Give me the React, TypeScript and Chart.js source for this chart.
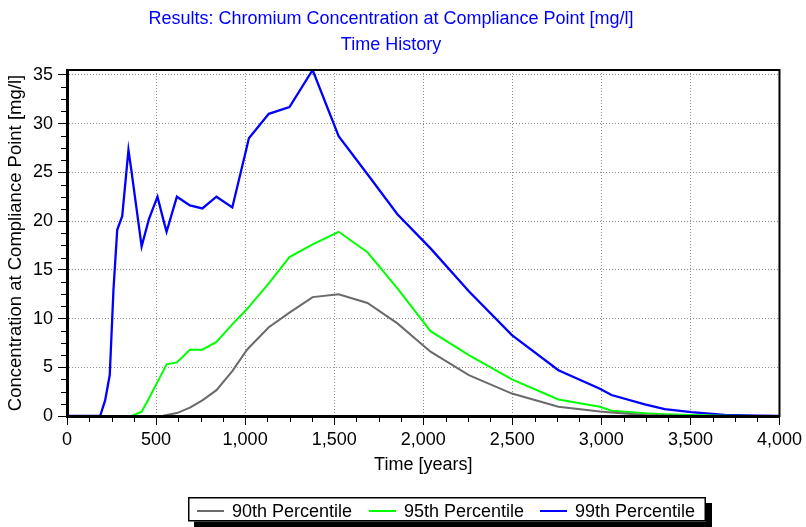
import React, { useEffect, useRef } from 'react';
import { Chart, registerables } from 'chart.js';

Chart.register(...registerables);

const TITLE_LINES = ['Results: Chromium Concentration at Compliance Point [mg/l]', 'Time History'];
const X_TITLE = 'Time [years]';
const Y_TITLE = 'Concentration at Compliance Point [mg/l]';
const SERIES_LABELS = ['90th Percentile', '95th Percentile', '99th Percentile'];
const SERIES_COLORS = ['#6a6a6a', '#00ff00', '#0000ff'];

// time steps [years]
const TIMES = [0, 186, 214, 240, 261, 282, 310, 345, 363, 419, 460, 508, 540, 559, 617, 690, 760, 839, 928, 1007, 1021, 1133, 1249, 1379, 1525, 1687, 1855, 2041, 2256, 2498, 2759, 2992, 3057, 3244, 3356, 3505, 3691, 3877, 4000];
// concentrations [mg/l]
const P90 = [0, 0, 0, 0, 0, 0, 0, 0, 0, 0, 0, 0, 0.02, 0.1, 0.3, 0.85, 1.6, 2.65, 4.6, 6.7, 7.0, 9.1, 10.6, 12.2, 12.5, 11.6, 9.5, 6.6, 4.2, 2.3, 0.95, 0.45, 0.35, 0.1, 0.05, 0, 0, 0, 0];
const P95 = [0, 0, 0, 0, 0, 0, 0, 0, 0, 0.45, 1.8, 3.5, 4.6, 5.3, 5.5, 6.8, 6.8, 7.6, 9.4, 10.9, 11.2, 13.6, 16.3, 17.6, 18.9, 16.8, 13.1, 8.7, 6.25, 3.75, 1.7, 0.95, 0.55, 0.27, 0.18, 0.1, 0.02, 0, 0];
const P99 = [0, 0, 1.6, 4.2, 13.0, 19.1, 20.5, 27.3, 25.0, 17.4, 20.2, 22.5, 20.2, 18.9, 22.5, 21.6, 21.3, 22.5, 21.4, 27.4, 28.5, 31.0, 31.7, 35.5, 28.7, 24.8, 20.7, 17.2, 12.8, 8.3, 4.7, 2.8, 2.15, 1.2, 0.7, 0.4, 0.12, 0.03, 0];
const SERIES_VALUES = [P90, P95, P99];

const X_MIN = 0;
const X_MAX = 4000;
const X_STEP = 500;
const X_MINOR = 125;
const Y_MIN = 0;
const Y_MAX = 35.5;
const Y_STEP = 5;
const Y_MINOR = 1.25;

const FONT = "'Liberation Sans', Arial, sans-serif";

const framePlugin = {
  id: 'frame',
  afterDatasetsDraw(chart: any) {
    const { ctx, chartArea: a, scales } = chart;
    ctx.save();
    ctx.strokeStyle = '#000';
    ctx.lineWidth = 1;
    ctx.beginPath();
    for (let v = X_MIN + X_MINOR; v < X_MAX; v += X_MINOR) {
      if (v % X_STEP === 0) continue;
      const px = Math.round(scales.x.getPixelForValue(v)) + 0.5;
      ctx.moveTo(px, a.bottom);
      ctx.lineTo(px, a.bottom + 6);
    }
    for (let v = Y_MIN + Y_MINOR; v < Y_MAX; v += Y_MINOR) {
      if (Math.abs(v / Y_STEP - Math.round(v / Y_STEP)) < 1e-6) continue;
      const py = Math.round(scales.y.getPixelForValue(v)) + 0.5;
      ctx.moveTo(a.left - 6, py);
      ctx.lineTo(a.left, py);
    }
    ctx.stroke();
    ctx.lineWidth = 2;
    ctx.strokeRect(a.left, a.top, a.right - a.left, a.bottom - a.top);
    ctx.restore();
  },
};

const legendPlugin = {
  id: 'boxLegend',
  afterDraw(chart: any) {
    const ctx = chart.ctx;
    const left = 188;
    const top = 497;
    const w = 518;
    const h = 24.5;
    ctx.save();
    ctx.fillStyle = '#000';
    ctx.fillRect(left + 6, top + 6, w, h);
    ctx.fillStyle = '#fff';
    ctx.fillRect(left, top, w, h);
    ctx.strokeStyle = '#000';
    ctx.lineWidth = 1.5;
    ctx.strokeRect(left + 0.75, top + 0.75, w - 1.5, h - 1.5);
    const starts = [197, 369, 540];
    ctx.font = `18px ${FONT}`;
    ctx.textBaseline = 'alphabetic';
    ctx.textAlign = 'left';
    chart.data.datasets.forEach((ds: any, i: number) => {
      const x = starts[i];
      ctx.strokeStyle = ds.borderColor;
      ctx.lineWidth = 2;
      ctx.beginPath();
      ctx.moveTo(x, 511);
      ctx.lineTo(x + 27, 511);
      ctx.stroke();
      ctx.fillStyle = '#000';
      ctx.fillText(ds.label, x + 35, 516.5);
    });
    ctx.restore();
  },
};

export default function App() {
  const canvasRef = useRef<HTMLCanvasElement | null>(null);

  useEffect(() => {
    const canvas = canvasRef.current;
    if (!canvas) return;
    const datasets = SERIES_LABELS.map((label, i) => ({
      label,
      data: TIMES.map((t, j) => ({ x: t, y: SERIES_VALUES[i][j] })),
      borderColor: SERIES_COLORS[i],
      backgroundColor: SERIES_COLORS[i],
      borderWidth: i === 2 ? 2.3 : 2,
      pointRadius: 0,
      tension: 0,
      fill: false,
    }));
    const tickFont = { family: FONT, size: 18 };
    const gridOpts = {
      color: '#8c8c8c',
      lineWidth: 1,
      tickLength: 9,
      tickColor: '#000',
      tickWidth: 1,
      tickBorderDash: [],
    };
    const chart = new Chart(canvas, {
      type: 'line',
      data: { datasets },
      options: {
        responsive: false,
        animation: false,
        devicePixelRatio: 1,
        locale: 'en-US',
        layout: { padding: { left: 0, right: 24, top: 0, bottom: 51 } },
        plugins: {
          legend: { display: false },
          tooltip: { enabled: false },
          title: {
            display: true,
            text: TITLE_LINES,
            color: '#0000ff',
            font: { family: FONT, size: 18, weight: 'normal', lineHeight: '26px' },
            padding: { top: 6, bottom: 12 },
          },
        },
        scales: {
          x: {
            type: 'linear',
            min: X_MIN,
            max: X_MAX,
            afterFit: (s: any) => {
              s.height = 60;
            },
            ticks: {
              stepSize: X_STEP,
              color: '#000',
              font: tickFont,
              padding: 4,
              maxRotation: 0,
              autoSkip: false,
              includeBounds: false,
              callback: (v: any) => Number(v).toLocaleString('en-US'),
            },
            grid: gridOpts,
            border: { display: true, color: '#000', width: 3, dash: [1, 2] },
            title: {
              display: true,
              text: X_TITLE,
              color: '#000',
              font: { family: FONT, size: 18 },
              padding: { top: 0, bottom: 0 },
            },
          },
          y: {
            type: 'linear',
            min: Y_MIN,
            max: Y_MAX,
            afterFit: (s: any) => {
              s.width = 67;
            },
            ticks: {
              stepSize: Y_STEP,
              color: '#000',
              font: tickFont,
              padding: 5,
              includeBounds: false,
            },
            grid: gridOpts,
            border: { display: true, color: '#000', width: 3, dash: [1, 2] },
            title: {
              display: true,
              text: Y_TITLE,
              color: '#000',
              font: { family: FONT, size: 18.5 },
              padding: { top: 5, bottom: 0 },
            },
          },
        },
      },
      plugins: [framePlugin, legendPlugin],
    } as any);
    return () => chart.destroy();
  }, []);

  return (
    <div style={{ position: 'absolute', left: 0, top: 0, width: 806, height: 527, background: '#fff' }}>
      <canvas ref={canvasRef} width={806} height={527} style={{ display: 'block' }} />
    </div>
  );
}
